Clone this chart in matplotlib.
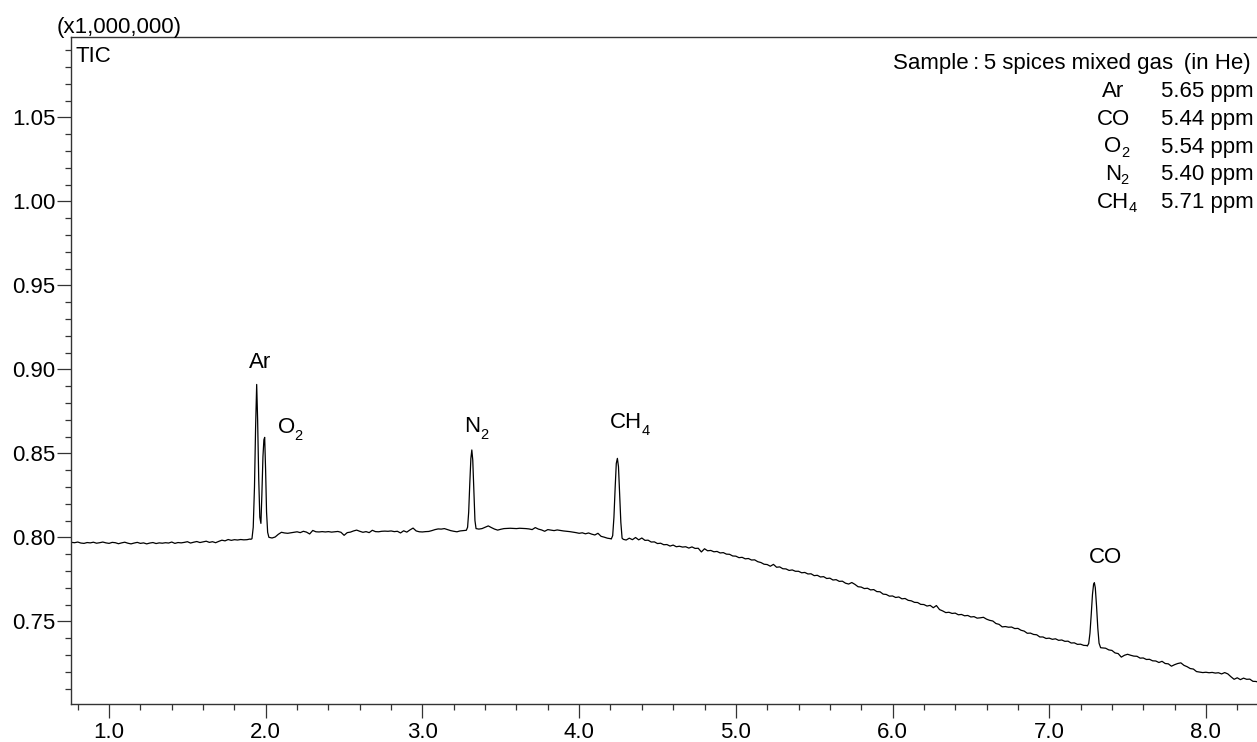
import numpy as np
import matplotlib
matplotlib.use("Agg")
import matplotlib.pyplot as plt
from matplotlib.ticker import MultipleLocator, FormatStrFormatter

# baseline trace, sampled every 0.02 min from 0.76 min (x1,000,000 counts)
base_start = 0.76
base_step = 0.02
base_tic = [
    0.7970, 0.7968, 0.7972, 0.7966, 0.7964, 0.7969, 0.7967, 0.7971, 0.7965, 0.7968,
    0.7972, 0.7967, 0.7964, 0.7970, 0.7968, 0.7962, 0.7967, 0.7971, 0.7965, 0.7961,
    0.7966, 0.7970, 0.7964, 0.7967, 0.7961, 0.7966, 0.7969, 0.7963, 0.7967, 0.7965,
    0.7968, 0.7966, 0.7972, 0.7964, 0.7969, 0.7967, 0.7970, 0.7974, 0.7966, 0.7971,
    0.7975, 0.7969, 0.7973, 0.7977, 0.7970, 0.7974, 0.7968, 0.7976, 0.7983, 0.7979,
    0.7987, 0.7982, 0.7986, 0.7984, 0.7987, 0.7985, 0.7986, 0.7990, 0.7990, 0.7990,
    0.8000, 0.8000, 0.8000, 0.8000, 0.7996, 0.8002, 0.8018, 0.8030, 0.8026, 0.8024,
    0.8027, 0.8030, 0.8033, 0.8028, 0.8036, 0.8031, 0.8020, 0.8041, 0.8033, 0.8032,
    0.8034, 0.8032, 0.8034, 0.8031, 0.8033, 0.8035, 0.8030, 0.8012, 0.8028, 0.8031,
    0.8038, 0.8043, 0.8036, 0.8030, 0.8034, 0.8028, 0.8042, 0.8034, 0.8033, 0.8036,
    0.8037, 0.8036, 0.8038, 0.8034, 0.8036, 0.8026, 0.8039, 0.8031, 0.8044, 0.8055,
    0.8038, 0.8033, 0.8032, 0.8034, 0.8035, 0.8040, 0.8046, 0.8050, 0.8049, 0.8052,
    0.8046, 0.8040, 0.8036, 0.8033, 0.8038, 0.8040, 0.8042, 0.8050, 0.8050, 0.8050,
    0.8049, 0.8052, 0.8060, 0.8068, 0.8058, 0.8049, 0.8043, 0.8048, 0.8052, 0.8053,
    0.8054, 0.8053, 0.8052, 0.8054, 0.8053, 0.8052, 0.8050, 0.8046, 0.8058, 0.8049,
    0.8044, 0.8036, 0.8046, 0.8043, 0.8040, 0.8044, 0.8041, 0.8038, 0.8036, 0.8034,
    0.8031, 0.8028, 0.8024, 0.8027, 0.8021, 0.8026, 0.8019, 0.8014, 0.8024, 0.8006,
    0.8001, 0.7995, 0.7992, 0.7990, 0.7990, 0.7990, 0.7990, 0.7984, 0.7995, 0.7986,
    0.7999, 0.7985, 0.7996, 0.7982, 0.7983, 0.7972, 0.7973, 0.7963, 0.7965, 0.7956,
    0.7957, 0.7948, 0.7954, 0.7944, 0.7947, 0.7942, 0.7944, 0.7936, 0.7943, 0.7934,
    0.7935, 0.7913, 0.7932, 0.7920, 0.7922, 0.7914, 0.7916, 0.7907, 0.7909, 0.7900,
    0.7899, 0.7889, 0.7888, 0.7879, 0.7881, 0.7872, 0.7874, 0.7865, 0.7866, 0.7855,
    0.7850, 0.7840, 0.7838, 0.7828, 0.7839, 0.7822, 0.7824, 0.7813, 0.7812, 0.7803,
    0.7806, 0.7798, 0.7798, 0.7789, 0.7791, 0.7782, 0.7783, 0.7772, 0.7774, 0.7764,
    0.7766, 0.7755, 0.7757, 0.7746, 0.7748, 0.7738, 0.7739, 0.7727, 0.7722, 0.7731,
    0.7720, 0.7706, 0.7704, 0.7695, 0.7697, 0.7687, 0.7689, 0.7677, 0.7676, 0.7662,
    0.7660, 0.7650, 0.7651, 0.7642, 0.7645, 0.7634, 0.7636, 0.7625, 0.7622, 0.7613,
    0.7612, 0.7601, 0.7600, 0.7591, 0.7595, 0.7581, 0.7594, 0.7570, 0.7562, 0.7552,
    0.7554, 0.7547, 0.7549, 0.7539, 0.7541, 0.7533, 0.7535, 0.7526, 0.7528, 0.7519,
    0.7521, 0.7524, 0.7513, 0.7506, 0.7502, 0.7487, 0.7482, 0.7467, 0.7469, 0.7465,
    0.7466, 0.7457, 0.7458, 0.7447, 0.7442, 0.7429, 0.7430, 0.7422, 0.7420, 0.7407,
    0.7407, 0.7398, 0.7400, 0.7393, 0.7396, 0.7387, 0.7389, 0.7381, 0.7382, 0.7371,
    0.7372, 0.7363, 0.7364, 0.7357, 0.7356, 0.7350, 0.7350, 0.7350, 0.7350, 0.7342,
    0.7340, 0.7330, 0.7327, 0.7312, 0.7308, 0.7287, 0.7298, 0.7304, 0.7298, 0.7293,
    0.7292, 0.7281, 0.7282, 0.7273, 0.7274, 0.7265, 0.7264, 0.7255, 0.7262, 0.7249,
    0.7247, 0.7233, 0.7242, 0.7249, 0.7253, 0.7238, 0.7230, 0.7219, 0.7216, 0.7201,
    0.7198, 0.7195, 0.7197, 0.7194, 0.7196, 0.7192, 0.7194, 0.7187, 0.7195, 0.7187,
    0.7170, 0.7155, 0.7164, 0.7153, 0.7162, 0.7155, 0.7156, 0.7143, 0.7142, 0.7136,
]

# peaks, read at finer spacing
ar_o2_rt = [1.905, 1.912, 1.920, 1.928, 1.935, 1.942, 1.948, 1.955, 1.962,
            1.969, 1.975, 1.982, 1.988, 1.993, 1.999, 2.005, 2.012, 2.020]
ar_o2_tic = [0.7988, 0.7992, 0.8060, 0.8300, 0.8650, 0.8910, 0.8700, 0.8350, 0.8120,
             0.8083, 0.8250, 0.8480, 0.8580, 0.8595, 0.8400, 0.8150, 0.8030, 0.8000]
n2_rt = [3.280, 3.288, 3.295, 3.302, 3.309, 3.315, 3.321, 3.328, 3.335, 3.342]
n2_tic = [0.8042, 0.8060, 0.8150, 0.8320, 0.8470, 0.8520, 0.8460, 0.8280, 0.8100, 0.8052]
ch4_rt = [4.205, 4.214, 4.222, 4.230, 4.237, 4.244, 4.251, 4.258, 4.266, 4.274, 4.282]
ch4_tic = [0.7990, 0.8010, 0.8120, 0.8300, 0.8440, 0.8470, 0.8420, 0.8270, 0.8090,
           0.7995, 0.7988]
co_rt = [7.243, 7.252, 7.260, 7.268, 7.276, 7.283, 7.288, 7.294, 7.302, 7.310,
         7.318, 7.328]
co_tic = [0.7353, 0.7368, 0.7430, 0.7540, 0.7660, 0.7720, 0.7730, 0.7700, 0.7590,
          0.7460, 0.7370, 0.7343]

# peak labels: formula split into main part and subscript
peak_main = ["Ar", "O", "N", "CH", "CO"]
peak_sub = ["", "2", "2", "4", ""]

sample_title = "Sample\u2009:\u20095 spices mixed gas \u2009(in He)"
table_main = ["Ar", "CO", "O", "N", "CH"]
table_sub = ["", "", "2", "2", "4"]
table_conc = ["5.65 ppm", "5.44 ppm", "5.54 ppm", "5.40 ppm", "5.71 ppm"]

# label anchors (left, baseline) in data coords
label_pos = [(1.893, 0.9006), (2.076, 0.8619), (3.267, 0.8629), (4.197, 0.8649),
             (7.256, 0.7849)]

plt.rcParams["font.family"] = ["Liberation Sans", "DejaVu Sans"]
FS = 16
SUB_FS = 10.5

# merge baseline and peaks
base_rt = np.round(base_start + base_step * np.arange(len(base_tic)), 3)
base_tic = np.array(base_tic)
keep = np.ones(len(base_rt), dtype=bool)
for rts in (ar_o2_rt, n2_rt, ch4_rt, co_rt):
    keep &= ~((base_rt >= rts[0] - 1e-6) & (base_rt <= rts[-1] + 1e-6))
rt = np.concatenate([base_rt[keep], ar_o2_rt, n2_rt, ch4_rt, co_rt])
tic = np.concatenate([base_tic[keep], ar_o2_tic, n2_tic, ch4_tic, co_tic])
order = np.argsort(rt)
rt, tic = rt[order], tic[order]

W, H = 1257, 742
fig = plt.figure(figsize=(W / 100, H / 100), dpi=100)
ax = fig.add_axes([71 / W, 38 / H, 1 - 71 / W, (704 - 37) / H])
ax.plot(rt, tic, color="black", lw=0.9)

ax.set_xlim(0.757, 8.326)
ax.set_ylim(0.7008, 1.0978)
ax.xaxis.set_major_locator(MultipleLocator(1.0))
ax.xaxis.set_minor_locator(MultipleLocator(0.2))
ax.xaxis.set_major_formatter(FormatStrFormatter("%.1f"))
ax.yaxis.set_major_locator(MultipleLocator(0.05))
ax.yaxis.set_minor_locator(MultipleLocator(0.01))
ax.yaxis.set_major_formatter(FormatStrFormatter("%.2f"))
ax.tick_params(which="major", direction="out", length=10, width=0.9,
               color="#333333", labelsize=FS)
ax.tick_params(which="minor", direction="out", length=4.5, width=0.9,
               color="#333333")
ax.tick_params(axis="x", pad=3)
ax.tick_params(axis="y", pad=1)
for side in ("left", "bottom", "top"):
    ax.spines[side].set_color("#333333")
    ax.spines[side].set_linewidth(1.0)
ax.spines["right"].set_visible(False)


def formula(x, y, main, sub, transform, ha="left", sub_dy=-1.5):
    t = ax.text(x, y, main, fontsize=FS, ha=ha, va="baseline",
                transform=transform, clip_on=False)
    if sub:
        ax.annotate(sub, xy=(1, 0), xycoords=t, xytext=(-0.4, sub_dy),
                    textcoords="offset points", fontsize=SUB_FS,
                    ha="left", va="baseline", annotation_clip=False)
    return t


for main, sub, (lx, ly) in zip(peak_main, peak_sub, label_pos):
    formula(lx, ly, main, sub, ax.transData)


def fx(px):
    return px / W


def fy(py):
    return 1 - py / H


fig.text(fx(57), fy(33), "(x1,000,000)", fontsize=FS, ha="left", va="baseline")
fig.text(fx(76), fy(61.5), "TIC", fontsize=FS, ha="left", va="baseline")
fig.text(fx(1251), fy(69), sample_title, fontsize=FS, ha="right", va="baseline")
for i, (main, sub, conc) in enumerate(zip(table_main, table_sub, table_conc)):
    yb = 97.3 + i * 27.6
    formula(fx(1113), fy(yb), main, sub, fig.transFigure, ha="center", sub_dy=0.5)
    fig.text(fx(1254), fy(yb), conc, fontsize=FS, ha="right", va="baseline")

fig.savefig("out.png", dpi=100)
